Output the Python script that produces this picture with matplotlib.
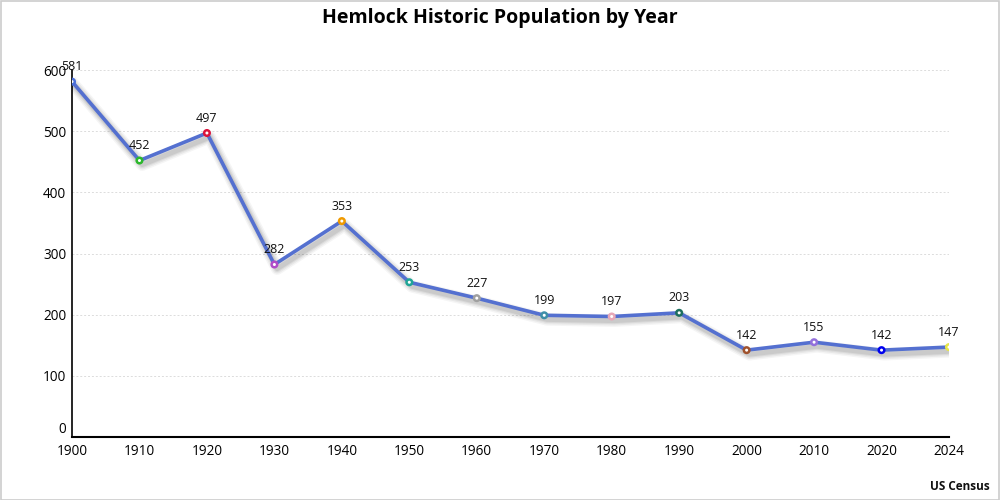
import matplotlib
matplotlib.use("Agg")
import matplotlib.pyplot as plt
import matplotlib.patheffects as pe
from matplotlib.patches import Rectangle

years = ["1900", "1910", "1920", "1930", "1940", "1950", "1960", "1970",
         "1980", "1990", "2000", "2010", "2020", "2024"]
population = [581, 452, 497, 282, 353, 253, 227, 199, 197, 203, 142, 155, 142, 147]
marker_colors = ["#4a6fd8", "#2db82d", "#dc143c", "#b04cc8", "#f09a00", "#1fa596",
                 "#a0a0a0", "#3f8fa8", "#e8a8b8", "#1c6e5e", "#a0522d", "#9370db",
                 "#0000ee", "#e6e64a"]
y_ticks = [0, 100, 200, 300, 400, 500, 600]

plt.rcParams['font.family'] = ['Open Sans', 'DejaVu Sans']

fig = plt.figure(figsize=(10, 5), dpi=100)
fig.patches.append(Rectangle((0.001, 0.001), 0.998, 0.997, transform=fig.transFigure,
                             fill=False, edgecolor="#cccccc", linewidth=1.2))
ax = fig.add_axes([0.072, 0.126, 0.877, 0.734])

x = list(range(len(years)))
shadow = [pe.SimpleLineShadow(offset=(2, -3), shadow_color="#000000", alpha=a, linewidth=w)
          for a, w in [(0.04, 9), (0.05, 7), (0.06, 5), (0.07, 3.5)]]
ax.plot(x, population, color="#5470d0", linewidth=2.6, zorder=3,
        path_effects=shadow + [pe.Normal()])
ax.scatter(x, population, s=16, facecolor="white", edgecolor=marker_colors,
           linewidth=1.8, zorder=4)
for xi, v in zip(x, population):
    ax.annotate(str(v), (xi, v), xytext=(0, 6), textcoords="offset points",
                ha="center", va="bottom", fontsize=9, color="#111111", zorder=5)

ax.set_xlim(0, len(years) - 1)
ax.set_ylim(0, 600)
ax.set_xticks(x)
ax.set_xticklabels(years, fontsize=9.8)
ax.set_yticks(y_ticks)
ax.set_yticklabels([str(t) for t in y_ticks], fontsize=9.8)
ax.tick_params(length=0)
ax.tick_params(axis='x', pad=5)
ax.tick_params(axis='y', pad=4)
ax.grid(axis='y', color="#dcdcdc", linestyle=(0, (2, 2)), linewidth=0.7)
ax.set_axisbelow(True)
for s in ["top", "right"]:
    ax.spines[s].set_visible(False)
ax.spines["left"].set_color("#000000")
ax.spines["bottom"].set_color("#000000")
ax.spines["left"].set_linewidth(1.2)
ax.spines["bottom"].set_linewidth(1.5)
ylabels = ax.get_yticklabels()
ylabels[0].set_va("bottom")

fig.text(0.5, 0.965, "Hemlock Historic Population by Year", ha="center", va="center",
         fontsize=14, fontweight="bold", color="#000000")
fig.text(0.99, 0.026, "US Census", ha="right", va="center", fontsize=8.5,
         fontweight="bold", color="#111111")

fig.savefig("out.png", dpi=100)
